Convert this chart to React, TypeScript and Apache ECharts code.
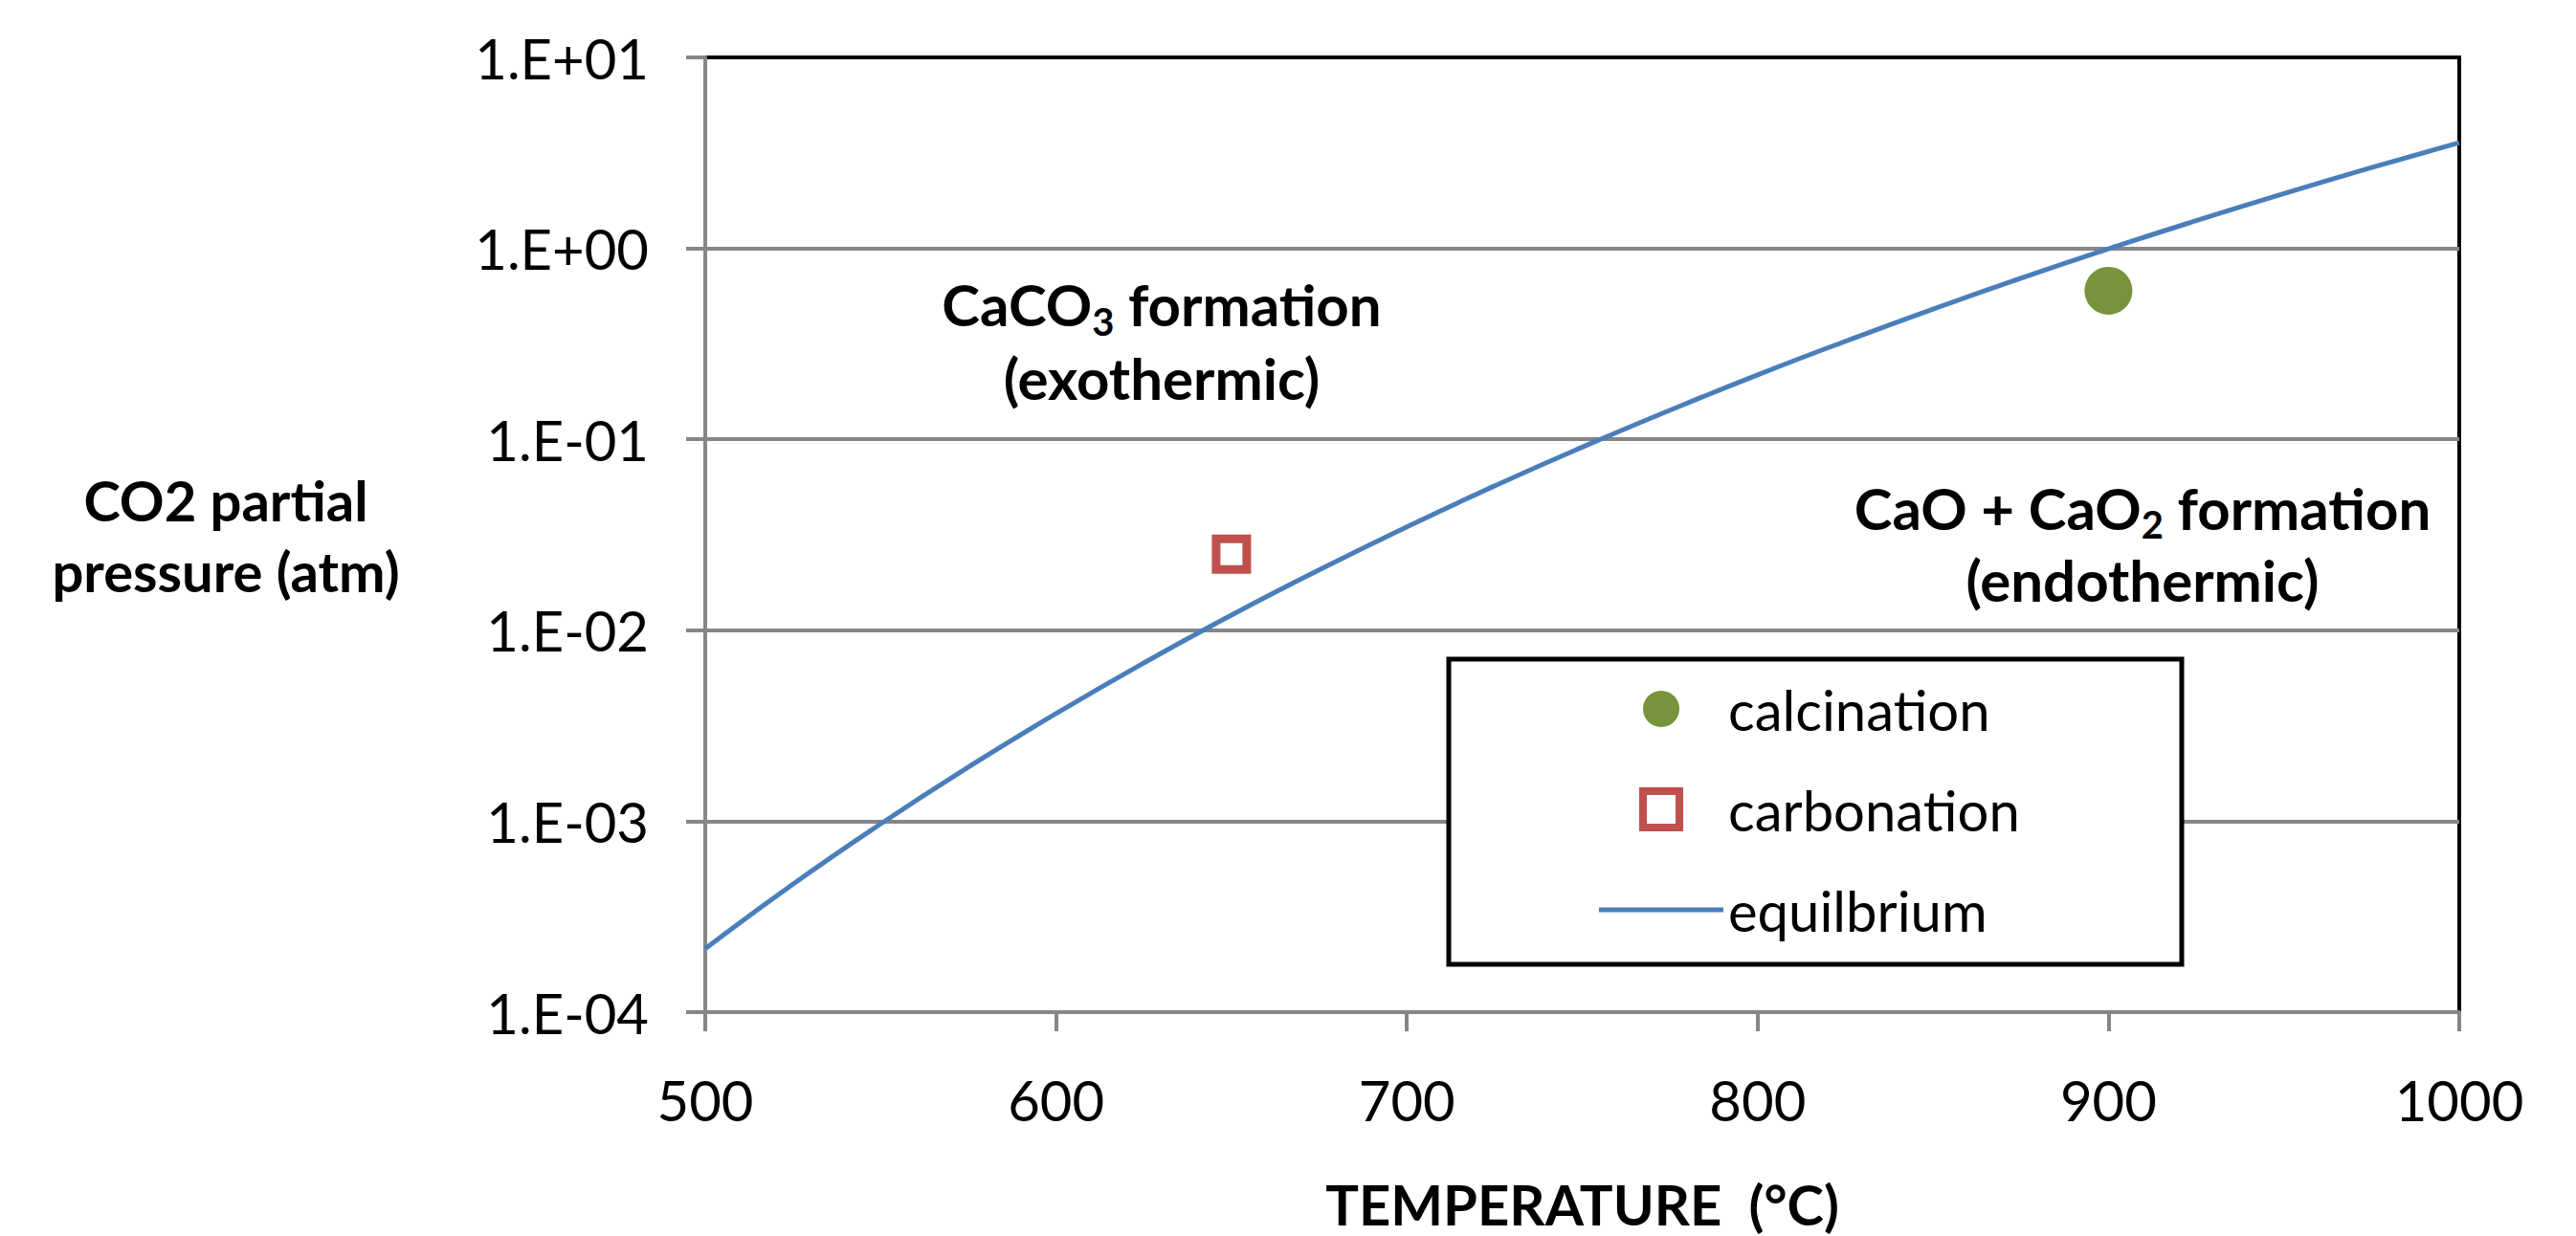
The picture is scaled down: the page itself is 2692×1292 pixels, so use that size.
import React, { useEffect, useRef } from "react";
import * as echarts from "echarts";

// Equilibrium curve (temperature °C, CO2 partial pressure atm)
const eqTemps = [500, 525, 550, 575, 600, 625, 650, 675, 700, 725, 750, 775, 800, 825, 850, 875, 900, 925, 950, 975, 1000];
const eqPressure = [2.15e-4, 4.68e-4, 9.68e-4, 1.92e-3, 3.66e-3, 6.74e-3, 1.2e-2, 2.07e-2, 3.48e-2, 5.7e-2, 9.1e-2, 0.142, 0.2175, 0.326, 0.481, 0.697, 0.994, 1.396, 1.935, 2.647, 3.577];

const calcinationTemp = [900];
const calcinationPressure = [0.6];
const carbonationTemp = [650];
const carbonationPressure = [0.025];

const seriesNames = ["calcination", "carbonation", "equilbrium"];
const xTicks = { min: 500, max: 1000, interval: 100 };
const yRange = { min: 1e-4, max: 10 };

const FONT = "Lato";
const GREEN = "#77933C";
const RED = "#C0504D";
const BLUE = "#4A7EBB";

function fmtExp(v: number): string {
  const e = Math.round(Math.log10(v));
  const s = e < 0 ? "-" : "+";
  return "1.E" + s + String(Math.abs(e)).padStart(2, "0");
}

export default function App() {
  const ref = useRef<HTMLDivElement>(null);
  useEffect(() => {
    if (!ref.current) return;
    const chart = echarts.init(ref.current, null, { renderer: "svg" });
    const gray = "#868686";
    chart.setOption({
      animation: false,
      backgroundColor: "#fff",
      grid: {
        left: 737,
        top: 60,
        width: 1833,
        height: 1011,
        show: true,
        borderColor: "#000",
        borderWidth: 4,
        backgroundColor: "transparent",
      },
      xAxis: {
        type: "value",
        min: xTicks.min,
        max: xTicks.max,
        interval: xTicks.interval,
        splitLine: { show: false },
        axisLine: { show: true, lineStyle: { color: gray, width: 4 } },
        axisTick: { show: true, inside: false, length: 20, lineStyle: { color: gray, width: 4 } },
        axisLabel: {
          color: "#000",
          fontFamily: FONT,
          fontSize: 58,
          margin: 62,
          formatter: (v: number) => String(v),
        },
        name: "TEMPERATURE  (°C)",
        nameLocation: "middle",
        nameGap: 200,
        nameTextStyle: {
          color: "#000",
          fontFamily: FONT,
          fontWeight: "bold",
          fontSize: 58,
          verticalAlign: "middle",
        },
      },
      yAxis: {
        type: "log",
        logBase: 10,
        min: yRange.min,
        max: yRange.max,
        splitLine: { show: true, showMaxLine: false, lineStyle: { color: gray, width: 4 } },
        axisLine: { show: true, lineStyle: { color: gray, width: 4 } },
        axisTick: { show: true, inside: false, length: 20, lineStyle: { color: gray, width: 4 } },
        axisLabel: {
          color: "#000",
          fontFamily: FONT,
          fontSize: 58,
          margin: 59,
          formatter: (v: number) => fmtExp(v),
        },
        name: "CO2 partial\npressure (atm)",
        nameLocation: "middle",
        nameRotate: 0,
        nameGap: 501,
        nameTextStyle: {
          color: "#000",
          fontFamily: FONT,
          fontWeight: "bold",
          fontSize: 58,
          lineHeight: 74,
          align: "center",
          verticalAlign: "middle",
          padding: [112, 0, 0, 0],
        },
      },
      legend: {
        orient: "vertical",
        left: 1666,
        top: 706,
        itemWidth: 130,
        itemHeight: 38,
        itemGap: 45,
        z: 5,
        symbolKeepAspect: true,
        data: [
          { name: seriesNames[0], icon: "circle", itemStyle: { color: GREEN, opacity: 1 } },
          {
            name: seriesNames[1],
            icon: "path://M0,0 L28,0 L28,28 L0,28 Z",
            itemStyle: { color: "#fff", borderColor: RED, borderWidth: 8 },
          },
          {
            name: seriesNames[2],
            icon: "path://M0,0 L130,0 L130,5 L0,5 Z",
            itemStyle: { color: BLUE, borderWidth: 0 },
          },
        ],
        textStyle: { color: "#000", fontFamily: FONT, fontSize: 58, lineHeight: 60 },
      },
      graphic: [
        {
          type: "rect",
          z: 3,
          shape: { x: 1514, y: 689, width: 766, height: 319 },
          style: { fill: "#fff", stroke: "#000", lineWidth: 5 },
        },
        {
          type: "text",
          z: 3,
          x: 1214,
          y: 356,
          style: {
            text: "{b|CaCO}{s|3}{b| formation}\n{b|(exothermic)}",
            align: "center",
            verticalAlign: "middle",
            rich: {
              b: { fontFamily: FONT, fontWeight: "bold", fontSize: 60, lineHeight: 77, fill: "#000" },
              s: { fontFamily: FONT, fontWeight: "bold", fontSize: 40, lineHeight: 40, verticalAlign: "bottom", fill: "#000" },
            },
          },
        },
        {
          type: "text",
          z: 3,
          x: 2239,
          y: 568,
          style: {
            text: "{b|CaO + CaO}{s|2}{b| formation}\n{b|(endothermic)}",
            align: "center",
            verticalAlign: "middle",
            rich: {
              b: { fontFamily: FONT, fontWeight: "bold", fontSize: 60, lineHeight: 75, fill: "#000" },
              s: { fontFamily: FONT, fontWeight: "bold", fontSize: 40, lineHeight: 40, verticalAlign: "bottom", fill: "#000" },
            },
          },
        },
      ],
      series: [
        {
          name: seriesNames[2],
          type: "line",
          data: eqTemps.map((t, i) => [t, eqPressure[i]]),
          symbol: "none",
          smooth: true,
          lineStyle: { color: BLUE, width: 5 },
          itemStyle: { color: BLUE },
          z: 2,
        },
        {
          name: seriesNames[0],
          type: "scatter",
          data: calcinationTemp.map((t, i) => [t, calcinationPressure[i]]),
          symbol: "circle",
          symbolSize: 50,
          itemStyle: { color: GREEN, opacity: 1 },
          z: 3,
        },
        {
          name: seriesNames[1],
          type: "scatter",
          data: carbonationTemp.map((t, i) => [t, carbonationPressure[i]]),
          symbol: "rect",
          symbolSize: 32,
          itemStyle: { color: "#fff", borderColor: RED, borderWidth: 9, opacity: 1 },
          z: 3,
        },
      ],
    });
    return () => chart.dispose();
  }, []);
  return (
    <div
      ref={ref}
      style={{ position: "absolute", left: 0, top: 0, width: 2692, height: 1292, background: "#fff" }}
    />
  );
}
